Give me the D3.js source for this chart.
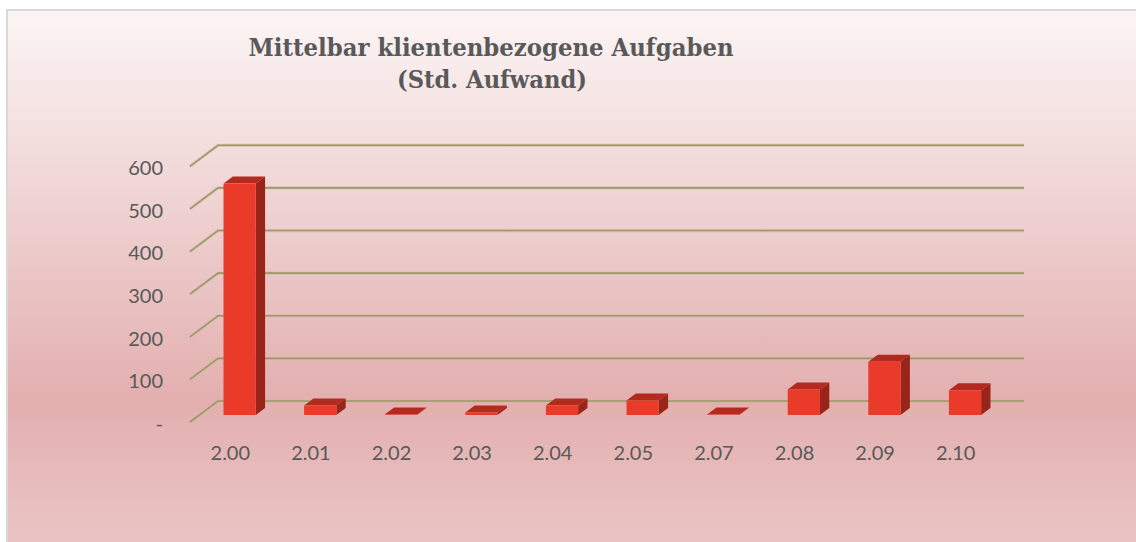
<!DOCTYPE html>
<html>
<head>
<meta charset="utf-8">
<script src="https://cdn.jsdelivr.net/npm/d3@7"></script>
<style>
html,body{margin:0;padding:0;background:#fff;}
svg{display:block;}
</style>
</head>
<body>
<svg id="chart" width="1136" height="542"></svg>
<script>
const titleLines = ["Mittelbar klientenbezogene Aufgaben", "(Std. Aufwand)"];
const categories = ["2.00","2.01","2.02","2.03","2.04","2.05","2.07","2.08","2.09","2.10"];
const values = [543, 22, 1, 6, 22, 34, 1, 60, 125, 58];
const yTicks = [0, 100, 200, 300, 400, 500, 600];

const svg = d3.select("#chart");
const W = 1136, H = 542;

// background gradient
const defs = svg.append("defs");
const grad = defs.append("linearGradient").attr("id","bg").attr("x1",0).attr("y1",0).attr("x2",0).attr("y2",1);
grad.append("stop").attr("offset","0%").attr("stop-color","#fcf5f5");
grad.append("stop").attr("offset","25%").attr("stop-color","#f3dddd");
grad.append("stop").attr("offset","72%").attr("stop-color","#e3afaf");
grad.append("stop").attr("offset","100%").attr("stop-color","#ebc6c6");

svg.append("rect").attr("x",7).attr("y",10).attr("width",W).attr("height",H)
  .attr("fill","url(#bg)").attr("stroke","#d9d9d9").attr("stroke-width",2);

// geometry of 3D frame
const backLeft = 218, backRight = 1024;
const depthDx = 28, depthDy = 21; // from back wall to front edge: (-dx, +dy)

const y = d3.scaleLinear().domain([0, 600]).range([401, 145.3]);
const xBack = d3.scaleBand().domain(categories).range([backLeft, backRight]).paddingInner(0.6).paddingOuter(0.3);
const xFront = d3.scaleBand().domain(categories).range([backLeft - depthDx, backRight - depthDx]);

// gridlines (side wall diagonal + back wall horizontal)
const grid = svg.append("g");
yTicks.forEach(v => {
  const yy = y(v);
  grid.append("path")
    .attr("d", `M${backLeft - depthDx},${yy + depthDy}L${backLeft},${yy}L${backRight},${yy}`)
    .attr("fill","none").attr("stroke","#c9bfa0").attr("stroke-width",3.2).attr("opacity",0.6);
  grid.append("path")
    .attr("d", `M${backLeft - depthDx},${yy + depthDy}L${backLeft},${yy}L${backRight},${yy}`)
    .attr("fill","none").attr("stroke","#9f9669").attr("stroke-width",1.6);
});

// y axis labels on front edge
const yAxis = d3.axisLeft(d3.scaleLinear().domain(y.domain()).range(y.range().map(r => r + depthDy + 2)))
  .tickValues(yTicks).tickSize(0).tickPadding(0)
  .tickFormat(v => v === 0 ? "-" : d3.format("d")(v));
const yg = svg.append("g").attr("transform","translate(163,0)").call(yAxis);
yg.select(".domain").remove();
yg.selectAll("text").attr("font-family","Lato, 'Open Sans', sans-serif").attr("font-size",20).attr("fill","#595959");

// x axis labels
const xAxis = d3.axisBottom(xFront).tickSize(0).tickPadding(0);
const xg = svg.append("g").attr("transform",`translate(0,${y(0) + depthDy + 24})`).call(xAxis);
xg.select(".domain").remove();
xg.selectAll("text").attr("font-family","Lato, 'Open Sans', sans-serif").attr("font-size",20).attr("fill","#595959").attr("dy","0.71em");

// 3D bars: occupy middle third of depth
const fFront = 2/3, fBack = 1/3; // fraction of depth offset from back wall
const bars = svg.append("g");
categories.forEach((c, i) => {
  const v = values[i];
  const x0 = xBack(c), w = xBack.bandwidth();
  const ox1 = -depthDx * fFront, oy1 = depthDy * fFront;
  const ox2 = -depthDx * fBack, oy2 = depthDy * fBack;
  const yt = y(v), yb = y(0);
  const fl = x0 + ox1, fr = x0 + w + ox1, ft = yt + oy1, fb = yb + oy1;
  const bl = x0 + ox2, br = x0 + w + ox2, bt = yt + oy2, bb = yb + oy2;
  const g = bars.append("g");
  g.append("path").attr("d", `M${fr},${ft}L${fr},${fb}L${br},${bb}L${br},${bt}Z`).attr("fill","#98241a");
  g.append("path").attr("d", `M${fl},${ft}L${fr},${ft}L${br},${bt}L${bl},${bt}Z`).attr("fill","#b52a1f");
  g.append("rect").attr("x", fl).attr("y", ft).attr("width", w).attr("height", Math.max(0, fb - ft)).attr("fill","#e93a2a");
});

// title
const title = svg.append("g").attr("font-family","'DejaVu Serif', serif").attr("font-weight","bold").attr("fill","#595959").attr("text-anchor","middle");
title.append("text").attr("x",491).attr("y",56).attr("font-size",25)
  .attr("textLength",485).attr("lengthAdjust","spacingAndGlyphs").text(titleLines[0]);
title.append("text").attr("x",492).attr("y",88).attr("font-size",25)
  .attr("textLength",190).attr("lengthAdjust","spacingAndGlyphs").text(titleLines[1]);
</script>
</body>
</html>
